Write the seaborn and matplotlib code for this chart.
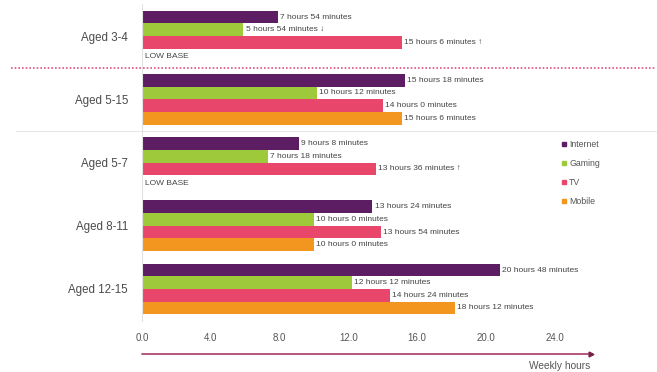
import numpy as np
import pandas as pd
import seaborn as sns
import matplotlib
matplotlib.use("Agg")
import matplotlib.pyplot as plt
from matplotlib.lines import Line2D

groups = ["Aged 3-4", "Aged 5-15", "Aged 5-7", "Aged 8-11", "Aged 12-15"]
media = ["Internet", "Gaming", "TV", "Mobile"]
internet = [7.9, 15.3, 9.13, 13.4, 20.8]
gaming = [5.9, 10.2, 7.3, 10.0, 12.2]
tv = [15.1, 14.0, 13.6, 13.9, 14.4]
mobile = [np.nan, 15.1, np.nan, 10.0, 18.2]
internet_lbl = ["7 hours 54 minutes", "15 hours 18 minutes", "9 hours 8 minutes",
                "13 hours 24 minutes", "20 hours 48 minutes"]
gaming_lbl = ["5 hours 54 minutes \u2193", "10 hours 12 minutes", "7 hours 18 minutes",
              "10 hours 0 minutes", "12 hours 12 minutes"]
tv_lbl = ["15 hours 6 minutes \u2191", "14 hours 0 minutes", "13 hours 36 minutes \u2191",
          "13 hours 54 minutes", "14 hours 24 minutes"]
mobile_lbl = ["", "15 hours 6 minutes", "", "10 hours 0 minutes", "18 hours 12 minutes"]
low_base = ["Aged 3-4", "Aged 5-7"]
xticks = [0, 4, 8, 12, 16, 20, 24]

colors = ["#5c1d62", "#9dc93b", "#e8476b", "#f3961f"]
text_col = "#555555"

rows = []
for m, vals, lbls in zip(media, [internet, gaming, tv, mobile],
                         [internet_lbl, gaming_lbl, tv_lbl, mobile_lbl]):
    for g, v, l in zip(groups, vals, lbls):
        rows.append({"group": g, "medium": m, "hours": v, "label": l})
df = pd.DataFrame(rows)
label_map = {(r.group, r.medium): r.label for r in df.itertuples()}
df_plot = df.dropna(subset=["hours"])

sns.set_theme(style="white")
plt.rcParams["font.family"] = ["Liberation Sans", "DejaVu Sans"]

fig = plt.figure(figsize=(6.57, 3.72), dpi=100)
ax = fig.add_axes([142 / 657, 1 - 320.6 / 372, 450.6 / 657, (320.6 - 4.4) / 372])

sns.barplot(data=df_plot, y="group", x="hours", hue="medium", order=groups,
            hue_order=media, palette=colors, orient="h", width=0.8,
            saturation=1, ax=ax, legend=False, errorbar=None, linewidth=0)

ax.set_xlim(0, 26.2)
ax.set_ylim(4.5, -0.5)
ax.set_xticks(xticks)
ax.set_xticklabels([f"{t:.1f}" for t in xticks], color=text_col, fontsize=7)
ax.tick_params(axis="x", length=0, pad=9)
ax.tick_params(axis="y", length=0, pad=10, labelsize=8.3, labelcolor="#4a4a4a")
ax.set_xlabel("")
ax.set_ylabel("")
for s in ["top", "right", "bottom"]:
    ax.spines[s].set_visible(False)
ax.spines["left"].set_color("#e2e2e2")
ax.spines["left"].set_linewidth(0.8)

for hue_i, cont in enumerate(ax.containers):
    m = media[hue_i]
    for bar in cont:
        w = bar.get_width()
        if not np.isfinite(w) or w == 0:
            continue
        yc = bar.get_y() + bar.get_height() / 2
        g = groups[int(round(yc))]
        ax.text(w + 0.12, yc, label_map[(g, m)], va="center", ha="left",
                fontsize=6, color="#444444",
                bbox=dict(facecolor="white", edgecolor="none", pad=0.6))

for g in low_base:
    ax.text(0.15, groups.index(g) + 0.33, "LOW BASE", va="center", ha="left",
            fontsize=6, color="#444444")

ytr = ax.get_yaxis_transform()
ax.plot([-0.29, 1.14], [0.5, 0.5], transform=ytr, clip_on=False,
        color="#e0507a", linestyle=(0, (1, 1.2)), linewidth=1.2)
ax.plot([-0.28, 1.14], [1.5, 1.5], transform=ytr, clip_on=False,
        color="#e6e6e6", linewidth=0.8)

handles = [Line2D([], [], marker="s", linestyle="none", markersize=3,
                  markerfacecolor=c, markeredgecolor=c) for c in colors]
fig.legend(handles, media, loc="upper left", bbox_to_anchor=(557 / 657, 1 - 136 / 372),
           frameon=False, fontsize=6.3, labelcolor=text_col, handlelength=0.6,
           handletextpad=0.3, labelspacing=1.12, borderpad=0)

fig.add_artist(plt.Line2D([142 / 657, 588 / 657], [1 - 354 / 372, 1 - 354 / 372],
                          color="#a83a6a", linewidth=1.2))
fig.add_artist(plt.Line2D([591 / 657], [1 - 354 / 372], marker=">", markersize=3.5,
                          color="#7a1f4a", linestyle="none"))
fig.text(590 / 657, 1 - 366 / 372, "Weekly hours", ha="right", va="center",
         fontsize=7.3, color=text_col)

fig.savefig("out.png", dpi=100, facecolor="white")
